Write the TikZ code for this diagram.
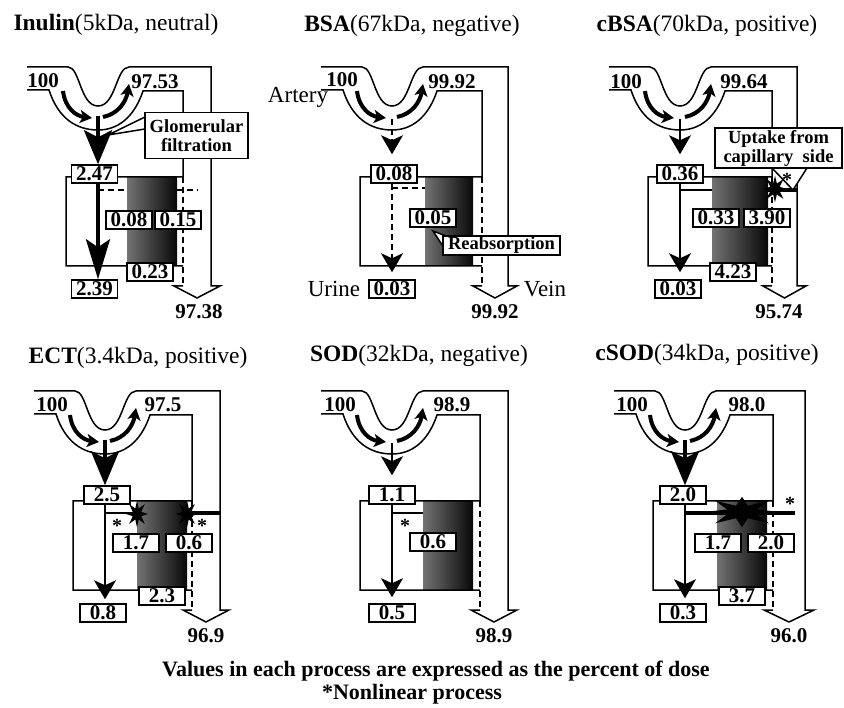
\documentclass[tikz,border=0pt]{standalone}
\usepackage{fontspec}
\setmainfont{Liberation Serif}
\usetikzlibrary{arrows.meta}
\newcommand\kframe[4]{%
  \shade[left color=black!55, right color=black!97] (#3,177) rectangle (#4,266);
  \draw[ln] (-71,67) -- (-30,67) .. controls (-18,67) and (-18,106) .. (0,106) .. controls (18,106) and (18,67) .. (31,67) -- (#2,67) -- (#2,286) -- ({#2+9},286) -- ({(#1+#2)/2},298) -- ({#1-9},286) -- (#1,286);
  \draw[ln] (-71,90) -- (-49,90) .. controls (-40,118) and (-22,130) .. (0,130) .. controls (24,130) and (38,112) .. (45,91) -- (#1,91) -- (#1,177) -- (-32,177) -- (-32,266) -- (#1,266);
  \draw[ln,dsh] (#1,177) -- (#1,286);
  \draw[curv] (-35,91) .. controls (-33,108) and (-22,116) .. (-6,118);
  \draw[curv] (5,117) .. controls (20,114) and (28,102) .. (31,84);
}
\newcommand\kburst[4]{%
  \fill[black,shift={(#1,#2)},xscale=#3,yscale=#4] (0:1) -- (22:.42) -- (45:1) -- (68:.42) -- (90:.95) -- (112:.42) -- (135:1) -- (158:.42) -- (180:1) -- (202:.42) -- (225:1) -- (248:.42) -- (270:.95) -- (292:.42) -- (315:1) -- (338:.42) -- cycle;}
\begin{document}
\begin{tikzpicture}[x=1pt,y=-1pt,
  ln/.style={line width=1.5pt, line join=miter},
  dsh/.style={dash pattern=on 6pt off 4pt},
  vb/.style={draw, line width=1.5pt, fill=white, font=\fontsize{21}{21}\selectfont\bfseries, inner xsep=2pt, inner ysep=1pt, minimum width=46pt, minimum height=18pt},
  num/.style={font=\fontsize{21}{21}\selectfont\bfseries, inner sep=0pt},
  ttl/.style={font=\fontsize{23.5}{24}\selectfont, inner sep=0pt},
  lab/.style={font=\fontsize{23}{24}\selectfont, inner sep=0pt},
  cbox/.style={draw, line width=1.5pt, fill=white, font=\fontsize{18.5}{19}\selectfont\bfseries, align=center, inner sep=1pt},
  curv/.style={line width=4pt, -{Stealth[length=12pt,width=13pt,inset=3pt]}},
  bigdn/.style={line width=4pt, -{Stealth[length=34pt,width=28pt,inset=7pt]}},
  thindn/.style={line width=1.3pt, -{Stealth[length=19pt,width=22pt,inset=5pt]}},
  wedge/.style={ln, fill=white},
  thick flux/.style={line width=4pt},
  thin flux/.style={line width=1.4pt},
  star/.style={font=\fontsize{20}{20}\selectfont\bfseries, inner sep=0pt},
  foot/.style={font=\fontsize{22}{22}\selectfont\bfseries, inner sep=0pt}
]
\fill[white] (0,0) rectangle (844,708);
\useasboundingbox (0,0) rectangle (844,708);

% ---------------- titles ----------------
\node[ttl] (tA) at (116,25) {\textbf{Inulin}(5kDa, neutral)};
\node[ttl] (tB) at (412,26) {\textbf{BSA}(67kDa, negative)};
\node[ttl] (tC) at (707,26) {\textbf{cBSA}(70kDa, positive)};
\node[ttl] (tD) at (138,358) {\textbf{ECT}(3.4kDa, positive)};
\node[ttl] (tE) at (419,356) {\textbf{SOD}(32kDa, negative)};
\node[ttl] (tF) at (707,355) {\textbf{cSOD}(34kDa, positive)};

% ---------------- Panel A: Inulin ----------------
\begin{scope}[shift={(98,0)}]
  \kframe{85}{113}{29}{79}
  \draw[ln,dsh] (0,190) -- (29,190);
  \draw[ln,dsh] (79,190) -- (100,190);
  \coordinate (Ag) at (0,116);
  \draw[wedge] (47,117) -- (10,135) -- (47,129) -- cycle;
  \node[cbox, minimum width=103pt, minimum height=46pt] (Ac) at (98.5,135.5) {Glomerular\\filtration};
  \node[vb] (At) at (-3.5,174) {2.47};
  \node[vb] (Am1) at (31,220) {0.08};
  \node[vb] (Am2) at (80,220) {0.15};
  \node[vb] (Ab) at (52,272) {0.23};
  \node[vb] (Au) at (-3.5,289) {2.39};
  \draw[bigdn] (Ag) -- (Ag |- At.north);
  \draw[line width=4pt, -{Stealth[length=40pt,width=24pt,inset=8pt]}] (At.south -| Ag) -- (Au.north -| Ag);
  \node[num] (Ain) at (-55,81) {100};
  \node[num] (Aout) at (57,82) {97.53};
  \node[num] (Av) at (101,312) {97.38};
\end{scope}

% ---------------- Panel B: BSA ----------------
\begin{scope}[shift={(392,0)}]
  \kframe{90}{116}{33}{81}
  \draw[ln,dsh] (0,188) -- (33,188);
  \coordinate (Bg) at (0,119);
  \draw[wedge] (58,237.5) -- (41,231) -- (51.5,247) -- cycle;
  \node[cbox, minimum width=117pt, minimum height=18pt] (Bc) at (109.5,245.5) {Reabsorption};
  \node[vb] (Bt) at (2,174) {0.08};
  \node[vb] (Bm) at (41,218) {0.05};
  \node[vb] (Bu) at (0,289) {0.03};
  \draw[thindn,dsh,shorten >=10pt] (Bg) -- (Bg |- Bt.north);
  \draw[thindn,dsh,shorten >=7pt] (Bt.south -| Bg) -- (Bu.north -| Bg);
  \node[num] (Bin) at (-50,80) {100};
  \node[num] (Bout) at (60,82) {99.92};
  \node[num] (Bv) at (103,312) {99.92};
  \node[lab] (Bart) at (-94,97) {Artery};
  \node[lab] (Burine) at (-58,289) {Urine};
  \node[lab] (Bvein) at (153,289) {Vein};
\end{scope}

% ---------------- Panel C: cBSA ----------------
\begin{scope}[shift={(680,0)}]
  \kframe{92}{117}{32}{88}
  \draw[thin flux] (0,190) -- (32,190);
  \draw[thick flux] (88,190) -- (117,190);
  \kburst{95}{189}{12}{14}
  \coordinate (Cg) at (0,119);
  \draw[wedge] (92,168) -- (113,190) -- (127,168) -- cycle;
  \node[cbox, minimum width=127pt, minimum height=40pt] (Cc) at (98.5,148) {Uptake from\\capillary\ \ side};
  \node[star] (Cs) at (107,180) {*};
  \node[vb] (Ct) at (0,174) {0.36};
  \node[vb] (Cm1) at (36,218) {0.33};
  \node[vb] (Cm2) at (87,218) {3.90};
  \node[vb] (Cb) at (53,272) {4.23};
  \node[vb] (Cu) at (-2,289) {0.03};
  \draw[thindn,shorten >=10pt] (Cg) -- (Cg |- Ct.north);
  \draw[thindn,shorten >=7pt] (Ct.south -| Cg) -- (Cu.north -| Cg);
  \node[num] (Cin) at (-54,82) {100};
  \node[num] (Cout) at (64,82) {99.64};
  \node[num] (Cv) at (99,312) {95.74};
\end{scope}

% ---------------- Panel D: ECT ----------------
\begin{scope}[shift={(105,324)}]
  \kframe{87}{115}{32}{82}
  \draw[thin flux] (0,189) -- (32,189);
  \draw[thick flux] (82,189) -- (115,189);
  \kburst{32}{190}{11}{14}
  \kburst{82}{190}{11}{14}
  \node[star] (Ds1) at (12,202) {*};
  \node[star] (Ds2) at (97,202) {*};
  \coordinate (Dg) at (0,116);
  \node[vb] (Dt) at (2,171) {2.5};
  \node[vb] (Dm1) at (31,219) {1.7};
  \node[vb] (Dm2) at (84,219) {0.6};
  \node[vb] (Db) at (57,272) {2.3};
  \node[vb] (Du) at (-2,289) {0.8};
  \draw[bigdn] (Dg) -- (Dg |- Dt.north);
  \draw[thindn,shorten >=4pt] (Dt.south -| Dg) -- (Du.north -| Dg);
  \node[num] (Din) at (-53,81) {100};
  \node[num] (Dout) at (58,81) {97.5};
  \node[num] (Dv) at (101,312) {96.9};
\end{scope}

% ---------------- Panel E: SOD ----------------
\begin{scope}[shift={(392,324)}]
  \kframe{88}{116}{31}{81}
  \draw[thin flux] (0,189) -- (31,189);
  \node[star] (Es) at (13,202) {*};
  \coordinate (Eg) at (0,119);
  \node[vb] (Et) at (0,171) {1.1};
  \node[vb] (Em) at (41,218) {0.6};
  \node[vb] (Eu) at (0,289) {0.5};
  \draw[thindn,shorten >=10pt] (Eg) -- (Eg |- Et.north);
  \draw[thindn,shorten >=6pt] (Et.south -| Eg) -- (Eu.north -| Eg);
  \node[num] (Ein) at (-52,81) {100};
  \node[num] (Eout) at (60,81) {98.9};
  \node[num] (Ev) at (102,312) {98.9};
\end{scope}

% ---------------- Panel F: cSOD ----------------
\begin{scope}[shift={(685,324)}]
  \kframe{88}{120}{32}{82}
  \draw[thick flux] (0,189) -- (110,189);
  \kburst{57}{188}{38}{16}
  \node[star] (Fs) at (105,180) {*};
  \coordinate (Fg) at (0,116);
  \node[vb] (Ft) at (-2,171) {2.0};
  \node[vb] (Fm1) at (33,219) {1.7};
  \node[vb] (Fm2) at (86,219) {2.0};
  \node[vb] (Fb) at (57,272) {3.7};
  \node[vb] (Fu) at (-2,289) {0.3};
  \draw[bigdn] (Fg) -- (Fg |- Ft.north);
  \draw[thindn,shorten >=5pt] (Ft.south -| Fg) -- (Fu.north -| Fg);
  \node[num] (Fin) at (-53,81) {100};
  \node[num] (Fout) at (62,81) {98.0};
  \node[num] (Fv) at (104,312) {96.0};
\end{scope}

% ---------------- footnote ----------------
\node[foot] (n1) at (436,671) {Values in each process are expressed as the percent of dose};
\node[foot] (n2) at (412,694) {*Nonlinear process};
\end{tikzpicture}
\end{document}
